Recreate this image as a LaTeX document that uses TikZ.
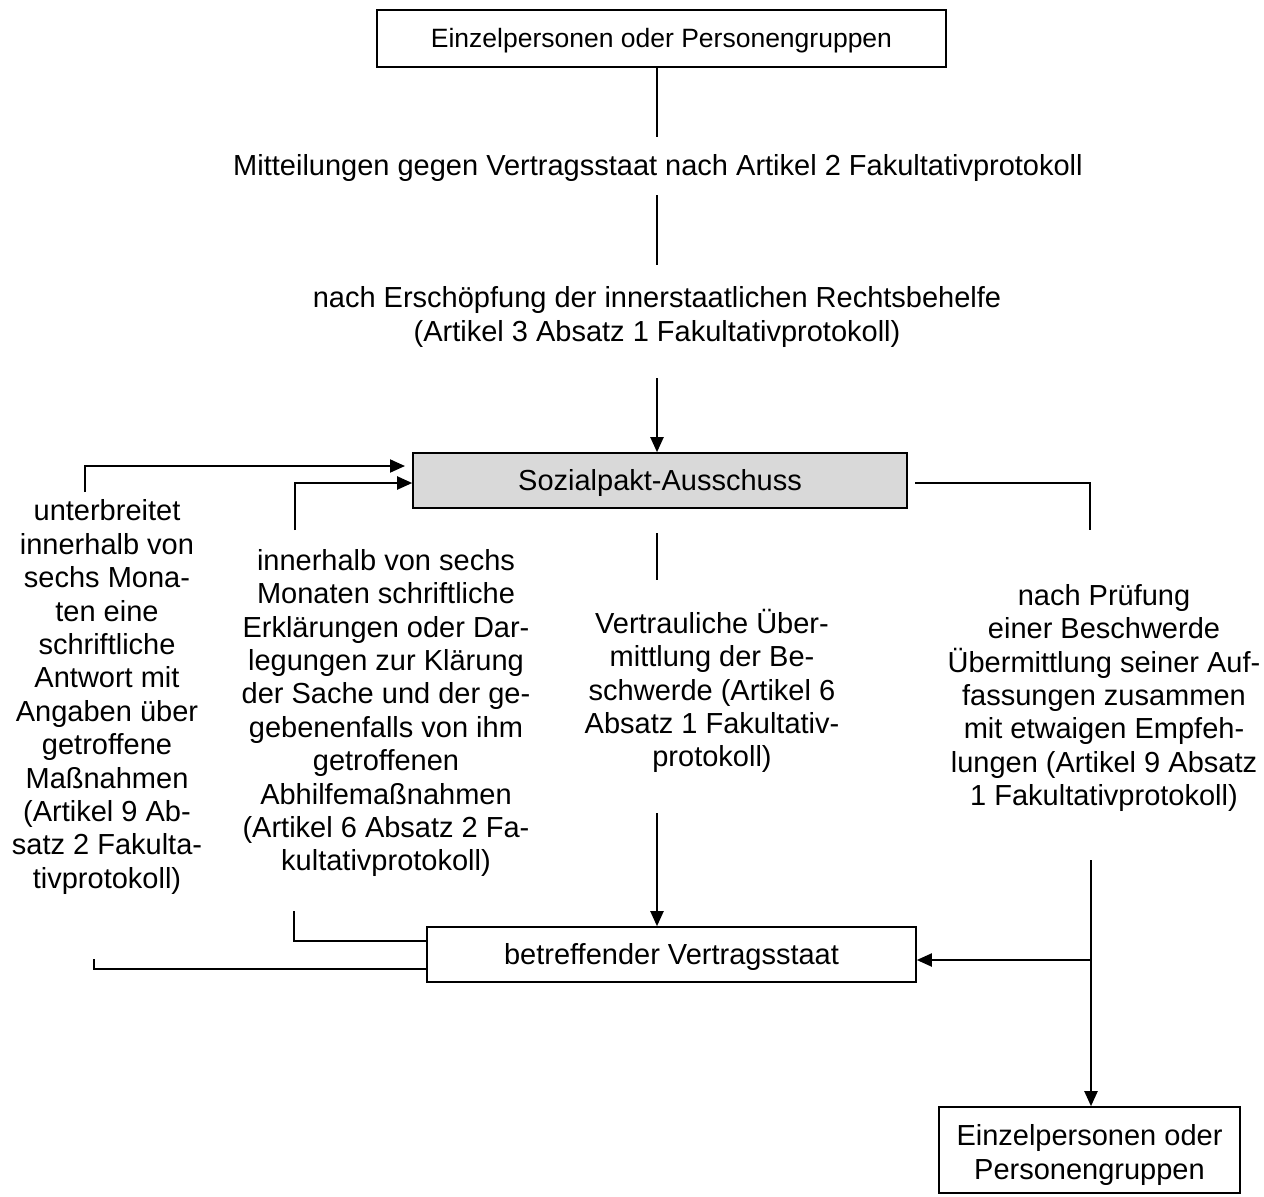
\documentclass[tikz,border=0pt]{standalone}
\usepackage{fontspec}
\setmainfont{Liberation Sans}
\usetikzlibrary{arrows.meta}
\definecolor{boxgray}{HTML}{D9D9D9}
\tikzset{
  txt/.style={align=center, inner sep=0pt, font=\fontsize{29}{33.4}\selectfont},
  framebox/.style={txt, draw, line width=1.6pt, text height=26pt, text depth=6pt},
  conn/.style={line width=2pt},
  arr/.style={conn, -{Triangle[length=15pt,width=13pt]}}
}
\begin{document}
\begin{tikzpicture}[x=1pt,y=-1pt]
\useasboundingbox (0,0) rectangle (1264,1197);

% boxes
\node[framebox, font=\fontsize{26.5}{33.4}\selectfont, text height=24pt, text depth=5.5pt,
      minimum width=569pt, minimum height=57pt] (top) at (661.5,38.5)
  {Einzelpersonen oder Personengruppen};
\node[framebox, fill=boxgray, minimum width=494pt, minimum height=55pt] (ausschuss) at (660,480.5)
  {Sozialpakt-Ausschuss};
\node[framebox, minimum width=489pt, minimum height=55pt] (staat) at (671.5,954.5)
  {betreffender Vertragsstaat};
\node[draw, line width=1.6pt, minimum width=301pt, minimum height=86pt] (einzel) at (1089.5,1150) {};
\node[txt] (einzeltxt) at (1089.5,1155) {Einzelpersonen oder\\Personengruppen};

% text labels
\node[txt] (mitt) at (658,168)
  {Mitteilungen gegen Vertragsstaat nach Artikel 2 Fakultativprotokoll};
\node[txt] (erschoepf) at (657,317)
  {nach Erschöpfung der innerstaatlichen Rechtsbehelfe\\(Artikel 3 Absatz 1 Fakultativprotokoll)};
\node[txt] (antwort) at (107,697)
  {unterbreitet\\innerhalb von\\sechs Mona-\\ten eine\\schriftliche\\Antwort mit\\Angaben über\\getroffene\\Maßnahmen\\(Artikel 9 Ab-\\satz 2 Fakulta-\\tivprotokoll)};
\node[txt] (erklaer) at (386,713)
  {innerhalb von sechs\\Monaten schriftliche\\Erklärungen oder Dar-\\legungen zur Klärung\\der Sache und der ge-\\gebenenfalls von ihm\\getroffenen\\Abhilfemaßnahmen\\(Artikel 6 Absatz 2 Fa-\\kultativprotokoll)};
\node[txt] (vertr) at (712,691)
  {Vertrauliche Über-\\mittlung der Be-\\schwerde (Artikel 6\\Absatz 1 Fakultativ-\\protokoll)};
\node[txt] (pruef) at (1104,698)
  {nach Prüfung\\einer Beschwerde\\Übermittlung seiner Auf-\\fassungen zusammen\\mit etwaigen Empfeh-\\lungen (Artikel 9 Absatz\\1 Fakultativprotokoll)};

% free line ends
\coordinate (a1) at (657,137);
\coordinate (a2) at (657,195);
\coordinate (a3) at (657,265);
\coordinate (a4) at (657,378);
\coordinate (b1) at (85,492);
\coordinate (b1t) at (405,466);
\coordinate (b2) at (295,530);
\coordinate (b2t) at (413,483);
\coordinate (r1) at (915,483);
\coordinate (r2) at (1090,530);
\coordinate (m1) at (657,533);
\coordinate (m2) at (657,580);
\coordinate (m3) at (657,813);
\coordinate (s1) at (294,911);
\coordinate (s1t) at (427,941);
\coordinate (s2) at (94,959);
\coordinate (s2c) at (94,969);
\coordinate (s2t) at (427,969);
\coordinate (q1) at (1091,860);
\coordinate (q2) at (1091,960);

% connectors
\draw[conn] (top.south -| a1) -- (a1);
\draw[conn] (a2) -- (a3);
\draw[arr] (a4) -- (ausschuss.north -| a4);
\draw[arr] (b1) |- (b1t);
\draw[arr] (b2) |- (ausschuss.west |- b2t);
\draw[conn] (r1) -| (r2);
\draw[conn] (m1) -- (m2);
\draw[arr] (m3) -- (staat.north -| m3);
\draw[conn] (s1) |- (staat.west |- s1t);
\draw[conn] (s2) -- (s2c) -- (staat.west |- s2t);
\draw[arr] (q1) -- (einzel.north -| q1);
\draw[arr] (q2) -- (staat.east |- q2);
\end{tikzpicture}
\end{document}
